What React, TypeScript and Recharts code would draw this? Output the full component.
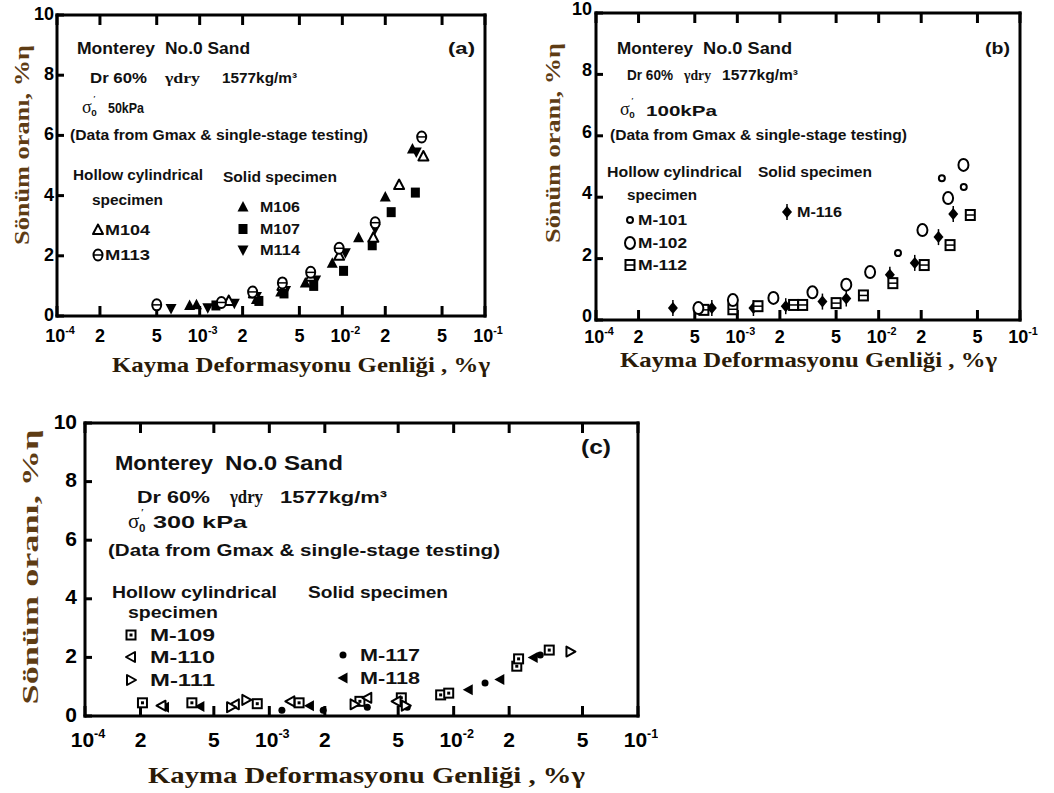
import React from 'react';
import { ScatterChart, Scatter, XAxis, YAxis } from 'recharts';

const SANS = "'Liberation Sans', Arial, sans-serif";
const SERIF = "'Liberation Serif', 'Times New Roman', serif";

const X_TICKS = [1e-4, 2e-4, 5e-4, 1e-3, 2e-3, 5e-3, 1e-2, 2e-2, 5e-2, 1e-1];
const Y_TICKS = [0, 2, 4, 6, 8, 10];

// (a) σ'0 = 50 kPa  — [shear strain %, damping %]
const M104 = [[1.6e-3, 0.5], [2.4e-3, 0.75], [3.8e-3, 1.0], [6e-3, 1.3], [9.5e-3, 2.0], [1.65e-2, 2.6], [2.5e-2, 4.35], [3.7e-2, 5.3]];
const M113 = [[5e-4, 0.37], [1.42e-3, 0.45], [2.35e-3, 0.8], [3.8e-3, 1.1], [6e-3, 1.45], [9.5e-3, 2.25], [1.7e-2, 3.1], [3.6e-2, 5.95]];
const M106 = [[8.5e-4, 0.35], [9.5e-4, 0.37], [2.5e-3, 0.55], [3.7e-3, 0.8], [5.5e-3, 1.1], [8.5e-3, 1.75], [1.3e-2, 2.6], [2.0e-2, 3.95], [3.1e-2, 5.55]];
const M107 = [[1.3e-3, 0.35], [2.6e-3, 0.5], [3.9e-3, 0.75], [6.3e-3, 1.0], [1.02e-2, 1.5], [1.62e-2, 2.35], [2.2e-2, 3.45], [3.25e-2, 4.1]];
const M114 = [[6.3e-4, 0.25], [1.14e-3, 0.27], [1.75e-3, 0.42], [2.5e-3, 0.65], [4e-3, 0.85], [6.5e-3, 1.2], [1.05e-2, 2.1], [1.7e-2, 2.9], [3.3e-2, 5.45]];

// (b) σ'0 = 100 kPa
const M101 = [[1.37e-2, 2.18], [2.8e-2, 4.62], [4.0e-2, 4.33]];
const M102 = [[5.3e-4, 0.39], [9.3e-4, 0.65], [1.8e-3, 0.72], [3.4e-3, 0.9], [5.9e-3, 1.15], [8.7e-3, 1.56], [2.04e-2, 2.93], [3.1e-2, 3.97], [3.98e-2, 5.05]];
const M112 = [[5.8e-4, 0.33], [9.3e-4, 0.35], [1.4e-3, 0.45], [2.5e-3, 0.49], [2.9e-3, 0.49], [5e-3, 0.55], [7.8e-3, 0.8], [1.26e-2, 1.2], [2.1e-2, 1.79], [3.2e-2, 2.44], [4.45e-2, 3.42]];
const M116 = [[3.5e-4, 0.39], [6.6e-4, 0.39], [1.3e-3, 0.39], [2.2e-3, 0.45], [4e-3, 0.6], [5.9e-3, 0.7], [1.2e-2, 1.47], [1.8e-2, 1.86], [2.65e-2, 2.7], [3.37e-2, 3.45]];

// (c) σ'0 = 300 kPa
const M109 = [[2.05e-4, 0.45], [3.8e-4, 0.45], [8.6e-4, 0.42], [1.45e-3, 0.45], [3.1e-3, 0.5], [5.2e-3, 0.62], [8.5e-3, 0.72], [9.4e-3, 0.78], [2.2e-2, 1.7], [2.25e-2, 1.95], [3.3e-2, 2.25]];
const M110 = [[2.6e-4, 0.35], [6.5e-4, 0.4], [1.3e-3, 0.5], [3.4e-3, 0.62], [4.9e-3, 0.5]];
const M111 = [[6.2e-4, 0.3], [7.5e-4, 0.55], [2.9e-3, 0.4], [5.5e-3, 0.35], [4.3e-2, 2.2]];
const M117 = [[1.17e-3, 0.2], [1.96e-3, 0.2], [3.4e-3, 0.3], [5.6e-3, 0.3], [1.48e-2, 1.13], [2.95e-2, 2.08]];
const M118 = [[2.7e-4, 0.3], [4.2e-4, 0.32], [1.65e-3, 0.35], [1.2e-2, 0.9], [1.78e-2, 1.25], [2.7e-2, 2.0]];

const pts = (a: number[][]) => a.map(([x, y]) => ({ x, y }));

function Mark({ kind, cx, cy }: { kind: string; cx: number; cy: number }) {
  const k = '#000';
  switch (kind) {
    case 'triUp':
      return <polygon points={`${cx},${cy - 5.5} ${cx - 5},${cy + 4} ${cx + 5},${cy + 4}`} fill="#fff" stroke={k} strokeWidth={2} strokeLinejoin="round" />;
    case 'triUpFill':
      return <polygon points={`${cx},${cy - 6} ${cx - 5.5},${cy + 4.5} ${cx + 5.5},${cy + 4.5}`} fill={k} />;
    case 'triDownFill':
      return <polygon points={`${cx - 5.5},${cy - 4.5} ${cx + 5.5},${cy - 4.5} ${cx},${cy + 6}`} fill={k} />;
    case 'squareFill':
      return <rect x={cx - 4.5} y={cy - 5} width={9} height={10} fill={k} />;
    case 'theta':
      return (
        <g>
          <ellipse cx={cx} cy={cy} rx={4.5} ry={5.5} fill="#fff" stroke={k} strokeWidth={2} />
          <line x1={cx - 4.5} x2={cx + 4.5} y1={cy} y2={cy} stroke={k} strokeWidth={1.5} />
        </g>
      );
    case 'ring':
      return <circle cx={cx} cy={cy} r={3} fill="#fff" stroke={k} strokeWidth={2} />;
    case 'circle':
      return <ellipse cx={cx} cy={cy} rx={5} ry={6} fill="#fff" stroke={k} strokeWidth={2} />;
    case 'squareBar':
      return (
        <g>
          <rect x={cx - 4.5} y={cy - 5} width={9} height={10} fill="#fff" stroke={k} strokeWidth={2} />
          <line x1={cx - 4.5} x2={cx + 4.5} y1={cy} y2={cy} stroke={k} strokeWidth={1.5} />
        </g>
      );
    case 'diamond':
      return (
        <g>
          <polygon points={`${cx},${cy - 6} ${cx + 5},${cy} ${cx},${cy + 6} ${cx - 5},${cy}`} fill={k} />
          <line x1={cx} x2={cx} y1={cy - 8} y2={cy + 8} stroke={k} strokeWidth={1.5} />
        </g>
      );
    case 'square':
      return (
        <g>
          <rect x={cx - 4.5} y={cy - 4.5} width={9} height={9} fill="#fff" stroke={k} strokeWidth={2} />
          <rect x={cx - 1.5} y={cy - 1.5} width={3} height={3} fill={k} />
        </g>
      );
    case 'triLeft':
      return <polygon points={`${cx - 5},${cy} ${cx + 4},${cy - 5} ${cx + 4},${cy + 5}`} fill="#fff" stroke={k} strokeWidth={2} strokeLinejoin="round" />;
    case 'triRight':
      return <polygon points={`${cx + 5},${cy} ${cx - 4},${cy - 5} ${cx - 4},${cy + 5}`} fill="#fff" stroke={k} strokeWidth={2} strokeLinejoin="round" />;
    case 'dot':
      return <circle cx={cx} cy={cy} r={3.5} fill={k} />;
    case 'triLeftFill':
      return <polygon points={`${cx - 5.5},${cy} ${cx + 4.5},${cy - 5.5} ${cx + 4.5},${cy + 5.5}`} fill={k} />;
    default:
      return null;
  }
}

const TX = 10; // inward tick length on the x axes
const TY = 7;  // inward tick length on the y axis

// x label: "10^-n" for decades, plain mantissa otherwise; y arrives at the inner end of the tick
function BottomTick(p: any) {
  const { x, y, payload, fs, dy } = p;
  const v = payload.value as number;
  const e = Math.floor(Math.log10(v) + 1e-9);
  const m = Math.round(v / Math.pow(10, e));
  const base = y + TX + dy;
  if (m === 1) {
    return (
      <text x={x + 3} y={base} textAnchor="middle" fontSize={fs} fontWeight="bold" fontFamily={SANS} fill="#000">
        10<tspan fontSize={fs * 0.6} dy={-fs * 0.45}>{`-${Math.abs(e)}`}</tspan>
      </text>
    );
  }
  return (
    <text x={x} y={base} textAnchor="middle" fontSize={fs} fontWeight="bold" fontFamily={SANS} fill="#000">
      {m}
    </text>
  );
}

function LeftTick(p: any) {
  const { x, y, payload, fs, gap, ly } = p;
  return (
    <text x={x - TY - gap} y={y + ly} textAnchor="end" dominantBaseline="central" fontSize={fs} fontWeight="bold" fontFamily={SANS} fill="#000">
      {payload.value}
    </text>
  );
}

type Series = { name: string; data: number[][]; kind: string };

function Panel({ left, top, w, h, series, fs, dy, gap, ly }: { left: number; top: number; w: number; h: number; series: Series[]; fs: number; dy: number; gap: number; ly: number }) {
  const ML = 60, MT = 15, MR = 20, MB = 45;
  const frame = { stroke: '#000', strokeWidth: 3, strokeLinecap: 'square' as const };
  const tl = { stroke: '#000', strokeWidth: 3 };
  return (
    <div style={{ position: 'absolute', left: left - ML, top: top - MT }}>
      <ScatterChart width={ML + w + MR} height={MT + h + MB} margin={{ top: MT - 1, right: MR - 1, bottom: MB - 30, left: ML - 41 }}>
        <XAxis xAxisId="b" dataKey="x" type="number" scale="log" domain={[1e-4, 1e-1]} allowDataOverflow ticks={X_TICKS} interval={0}
          height={30} tickSize={-TX} tickMargin={0} tickLine={tl} axisLine={frame}
          tick={(p: any) => <BottomTick {...p} fs={fs} dy={dy} />} />
        <XAxis xAxisId="t" orientation="top" dataKey="x" type="number" scale="log" domain={[1e-4, 1e-1]} allowDataOverflow ticks={X_TICKS} interval={0}
          height={1} tickSize={-TX} tickMargin={0} tickLine={tl} axisLine={frame}
          tick={() => <g />} />
        <YAxis yAxisId="l" dataKey="y" type="number" domain={[0, 10]} allowDataOverflow ticks={Y_TICKS} interval={0}
          width={41} tickSize={-TY} tickMargin={0} tickLine={tl} axisLine={frame}
          tick={(p: any) => <LeftTick {...p} fs={fs} gap={gap} ly={ly} />} />
        <YAxis yAxisId="r" orientation="right" dataKey="y" type="number" domain={[0, 10]} allowDataOverflow ticks={Y_TICKS}
          width={1} tick={false} tickLine={false} axisLine={frame} />
        {series.map((s) => (
          <Scatter key={s.name} name={s.name} xAxisId="b" yAxisId="l" data={pts(s.data)} isAnimationActive={false}
            shape={(p: any) => <Mark kind={s.kind} cx={p.cx} cy={p.cy} />} />
        ))}
      </ScatterChart>
    </div>
  );
}

const SERIES_A: Series[] = [
  { name: 'M106', data: M106, kind: 'triUpFill' },
  { name: 'M107', data: M107, kind: 'squareFill' },
  { name: 'M114', data: M114, kind: 'triDownFill' },
  { name: 'M104', data: M104, kind: 'triUp' },
  { name: 'M113', data: M113, kind: 'theta' },
];
const SERIES_B: Series[] = [
  { name: 'M-116', data: M116, kind: 'diamond' },
  { name: 'M-112', data: M112, kind: 'squareBar' },
  { name: 'M-102', data: M102, kind: 'circle' },
  { name: 'M-101', data: M101, kind: 'ring' },
];
const SERIES_C: Series[] = [
  { name: 'M-117', data: M117, kind: 'dot' },
  { name: 'M-118', data: M118, kind: 'triLeftFill' },
  { name: 'M-109', data: M109, kind: 'square' },
  { name: 'M-110', data: M110, kind: 'triLeft' },
  { name: 'M-111', data: M111, kind: 'triRight' },
];

function T({ x, y, w, fs, children, family = SANS }: any) {
  return (
    <text x={x} y={y} fontSize={fs} fontWeight="bold" fontFamily={family} dominantBaseline="central" fill="#111"
      textLength={w} lengthAdjust="spacingAndGlyphs">
      {children}
    </text>
  );
}

// σ'0 drawn as three small pieces so nothing stacks
function Sigma({ x, y, fs }: { x: number; y: number; fs: number }) {
  return (
    <g fill="#111" fontFamily={SERIF}>
      <text x={x} y={y} fontSize={fs} dominantBaseline="central">σ</text>
      <text x={x + fs * 0.62} y={y - fs * 0.42} fontSize={fs * 0.5} dominantBaseline="central" fontWeight="bold">′</text>
      <text x={x + fs * 0.52} y={y + fs * 0.32} fontSize={fs * 0.55} dominantBaseline="central" fontWeight="bold" fontFamily={SANS}>0</text>
    </g>
  );
}

function YTitle({ cx, cy, len, fs }: { cx: number; cy: number; len: number; fs: number }) {
  return (
    <text transform={`translate(${cx},${cy}) rotate(-90)`} textAnchor="middle" dominantBaseline="central" fontSize={fs}
      fontWeight="bold" fontFamily={SERIF} fill="#5e3c14" textLength={len} lengthAdjust="spacingAndGlyphs">
      Sönüm oranı, %η
    </text>
  );
}

function XTitle({ x, y, len, fs }: { x: number; y: number; len: number; fs: number }) {
  return (
    <text x={x} y={y} dominantBaseline="central" fontSize={fs} fontWeight="bold" fontFamily={SERIF} fill="#2b1b08"
      textLength={len} lengthAdjust="spacingAndGlyphs">
      Kayma Deformasyonu Genliği , %γ
    </text>
  );
}

export default function App() {
  return (
    <div style={{ position: 'absolute', left: 0, top: 0, width: 1054, height: 793, background: '#fff', overflow: 'hidden' }}>
      <Panel left={57} top={15} w={428} h={301} series={SERIES_A} fs={18} dy={26} gap={3} ly={-1} />
      <Panel left={596} top={13} w={424} h={307} series={SERIES_B} fs={18} dy={23} gap={4} ly={-4} />
      <Panel left={85} top={423} w={553} h={293} series={SERIES_C} fs={21} dy={31} gap={8} ly={-2} />

      <svg width={1054} height={793} style={{ position: 'absolute', left: 0, top: 0, pointerEvents: 'none' }}>
        {/* (a) */}
        <YTitle cx={21} cy={145} len={200} fs={22} />
        <XTitle x={112} y={364} len={378} fs={22} />
        <T x={77} y={48} w={78} fs={17}>Monterey</T>
        <T x={165} y={48} w={85} fs={17}>No.0 Sand</T>
        <T x={448} y={48} w={27} fs={17}>(a)</T>
        <T x={90} y={78} w={57} fs={14}>Dr  60%</T>
        <T x={165} y={78} w={35} fs={15} family={SERIF}>γdry</T>
        <T x={222} y={78} w={75} fs={14}>1577kg/m³</T>
        <Sigma x={82} y={107} fs={18} />
        <T x={108} y={108} w={36} fs={14}>50kPa</T>
        <T x={70} y={135} w={298} fs={14}>(Data from Gmax &amp; single-stage testing)</T>
        <T x={73} y={175} w={130} fs={14}>Hollow cylindrical</T>
        <T x={223} y={177} w={114} fs={14}>Solid specimen</T>
        <T x={92} y={200} w={71} fs={14}>specimen</T>
        <Mark kind="triUp" cx={98} cy={230} />
        <T x={105} y={230} w={45} fs={14}>M104</T>
        <Mark kind="theta" cx={98} cy={255} />
        <T x={105} y={255} w={45} fs={14}>M113</T>
        <Mark kind="triUpFill" cx={243} cy={207} />
        <T x={260} y={207} w={40} fs={14}>M106</T>
        <Mark kind="squareFill" cx={243} cy={229} />
        <T x={260} y={229} w={40} fs={14}>M107</T>
        <Mark kind="triDownFill" cx={243} cy={250} />
        <T x={260} y={250} w={40} fs={14}>M114</T>

        {/* (b) */}
        <YTitle cx={552} cy={143} len={200} fs={22} />
        <XTitle x={620} y={359} len={377} fs={22} />
        <T x={617} y={48} w={76} fs={17}>Monterey</T>
        <T x={703} y={48} w={89} fs={17}>No.0 Sand</T>
        <T x={985} y={48} w={25} fs={17}>(b)</T>
        <T x={627} y={75} w={46} fs={14}>Dr  60%</T>
        <T x={684} y={75} w={27} fs={15} family={SERIF}>γdry</T>
        <T x={722} y={75} w={76} fs={14}>1577kg/m³</T>
        <Sigma x={620} y={109} fs={18} />
        <T x={646} y={110} w={71} fs={15}>100kPa</T>
        <T x={610} y={135} w={297} fs={14}>(Data from Gmax &amp; single-stage testing)</T>
        <T x={607} y={172} w={135} fs={14}>Hollow cylindrical</T>
        <T x={758} y={172} w={114} fs={14}>Solid specimen</T>
        <T x={627} y={195} w={70} fs={14}>specimen</T>
        <Mark kind="ring" cx={630} cy={220} />
        <T x={638} y={220} w={49} fs={14}>M-101</T>
        <Mark kind="circle" cx={630} cy={243} />
        <T x={638} y={243} w={49} fs={14}>M-102</T>
        <Mark kind="squareBar" cx={630} cy={265} />
        <T x={638} y={265} w={49} fs={14}>M-112</T>
        <Mark kind="diamond" cx={787} cy={212} />
        <T x={797} y={212} w={45} fs={14}>M-116</T>

        {/* (c) */}
        <YTitle cx={30} cy={567} len={275} fs={24} />
        <XTitle x={148} y={775} len={437} fs={24} />
        <T x={115} y={463} w={98} fs={20}>Monterey</T>
        <T x={225} y={463} w={118} fs={20}>No.0 Sand</T>
        <T x={581} y={447} w={30} fs={20}>(c)</T>
        <T x={137} y={497} w={73} fs={17}>Dr  60%</T>
        <T x={230} y={497} w={33} fs={18} family={SERIF}>γdry</T>
        <T x={280} y={497} w={107} fs={17}>1577kg/m³</T>
        <Sigma x={128} y={521} fs={21} />
        <T x={153} y={522} w={94} fs={17}>300 kPa</T>
        <T x={108} y={550} w={392} fs={17}>(Data from Gmax &amp; single-stage testing)</T>
        <T x={112} y={592} w={165} fs={17}>Hollow cylindrical</T>
        <T x={308} y={592} w={140} fs={17}>Solid specimen</T>
        <T x={128} y={612} w={90} fs={17}>specimen</T>
        <Mark kind="square" cx={131} cy={635} />
        <T x={150} y={635} w={65} fs={17}>M-109</T>
        <Mark kind="triLeft" cx={131} cy={657} />
        <T x={150} y={657} w={65} fs={17}>M-110</T>
        <Mark kind="triRight" cx={131} cy={680} />
        <T x={150} y={680} w={65} fs={17}>M-111</T>
        <Mark kind="dot" cx={343} cy={655} />
        <T x={360} y={655} w={60} fs={17}>M-117</T>
        <Mark kind="triLeftFill" cx={343} cy={678} />
        <T x={360} y={678} w={60} fs={17}>M-118</T>
      </svg>
    </div>
  );
}
